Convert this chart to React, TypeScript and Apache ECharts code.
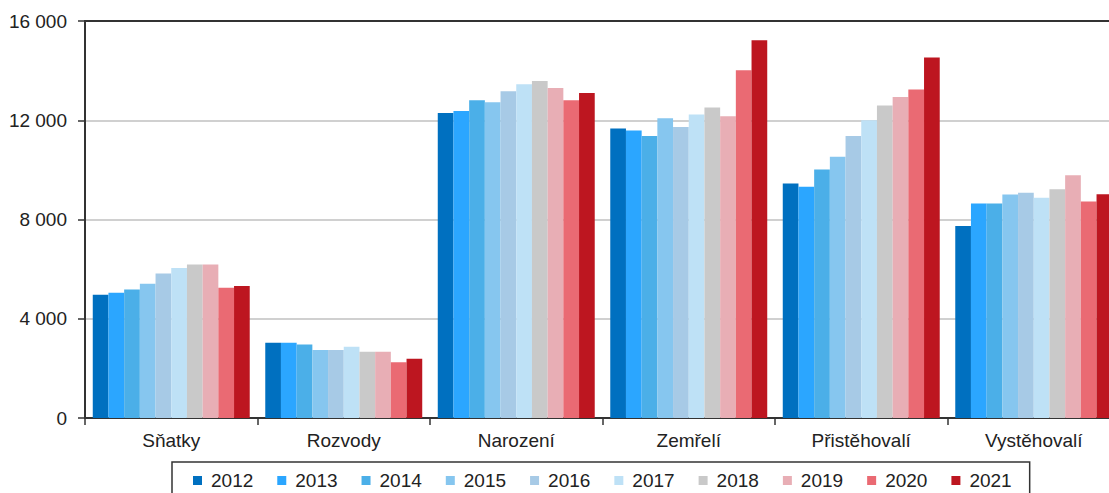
import React, { useEffect, useRef } from "react";
import * as echarts from "echarts";

const categories = ["Sňatky", "Rozvody", "Narození", "Zemřelí", "Přistěhovalí", "Vystěhovalí"];
const years = ["2012", "2013", "2014", "2015", "2016", "2017", "2018", "2019", "2020", "2021"];
const colors = ["#0070C0", "#2BA6FF", "#4BAFE8", "#86C6EF", "#A7CAE6", "#BEE1F6", "#C9C9C9", "#E8AEB5", "#EA6A73", "#BD1620"];

const v2012 = [4966, 3033, 12296, 11667, 9452, 7733];
const v2013 = [5047, 3033, 12376, 11587, 9315, 8647];
const v2014 = [5183, 2967, 12807, 11369, 10016, 8647];
const v2015 = [5409, 2739, 12726, 12082, 10524, 9009];
const v2016 = [5827, 2739, 13170, 11732, 11369, 9077];
const v2017 = [6041, 2872, 13451, 12231, 12002, 8872];
const v2018 = [6190, 2671, 13585, 12513, 12594, 9223];
const v2019 = [6190, 2671, 13303, 12163, 12940, 9787];
const v2020 = [5248, 2243, 12807, 14015, 13238, 8727];
const v2021 = [5316, 2389, 13101, 15223, 14527, 9021];
const seriesValues = [v2012, v2013, v2014, v2015, v2016, v2017, v2018, v2019, v2020, v2021];

const yTicks = [0, 4000, 8000, 12000, 16000];

const FONT = "'Liberation Sans', Arial, sans-serif";

export default function App() {
  const ref = useRef<HTMLDivElement>(null);
  useEffect(() => {
    document.body.style.margin = "0";
    document.body.style.overflow = "hidden";
    document.documentElement.style.overflow = "hidden";
    if (!ref.current) return;
    const chart = echarts.init(ref.current, null, { renderer: "svg" });
    chart.setOption({
      animation: false,
      backgroundColor: "#ffffff",
      grid: { left: 85, right: 1, top: 21, bottom: 75, containLabel: false },
      legend: {
        data: years,
        left: 172,
        top: 462,
        orient: "horizontal",
        icon: "rect",
        itemWidth: 9,
        itemHeight: 9,
        itemGap: 24,
        padding: [9, 18, 14, 21],
        borderColor: "#333",
        borderWidth: 1.5,
        textStyle: { fontFamily: FONT, fontSize: 19, color: "#222", padding: [0, 0, 0, 4] },
      },
      xAxis: [
        {
          type: "category",
          data: categories,
          position: "bottom",
          axisLine: { show: true, lineStyle: { color: "#333", width: 2 } },
          axisTick: { show: true, length: 7, lineStyle: { color: "#333", width: 1.5 } },
          axisLabel: { fontFamily: FONT, fontSize: 19, color: "#222", margin: 13 },
        },
        {
          type: "category",
          data: categories,
          position: "top",
          z: 5,
          axisLine: { show: true, lineStyle: { color: "#333", width: 2 } },
          axisTick: { show: false },
          axisLabel: { show: false },
        },
      ],
      yAxis: {
        type: "value",
        min: yTicks[0],
        max: yTicks[yTicks.length - 1],
        interval: 4000,
        axisLine: { show: true, lineStyle: { color: "#333", width: 2 } },
        axisTick: { show: true, length: 7, lineStyle: { color: "#333", width: 1.5 } },
        axisLabel: {
          fontFamily: FONT,
          fontSize: 19,
          color: "#222",
          margin: 18,
          formatter: (v: number) => String(v).replace(/\B(?=(\d{3})+(?!\d))/g, " "),
        },
        splitLine: { show: true, lineStyle: { color: "#C0C0C0", width: 1.5 } },
      },
      series: years.map((y, i) => ({
        name: y,
        type: "bar",
        xAxisIndex: 0,
        data: seriesValues[i],
        itemStyle: { color: colors[i] },
        barGap: "0%",
        barCategoryGap: "9%",
      })),
    });
    return () => chart.dispose();
  }, []);
  return <div ref={ref} style={{ width: 1121, height: 493 }} />;
}
